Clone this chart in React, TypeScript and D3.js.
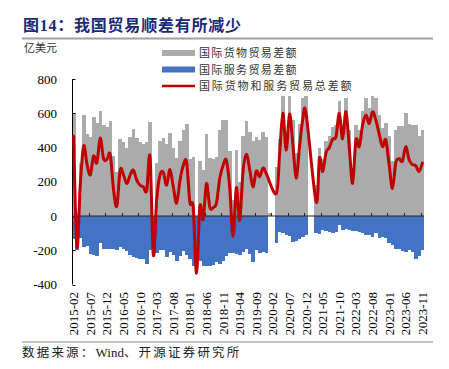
import React from "react";
import * as d3 from "d3";

// 2015-02 … 2023-11, monthly (亿美元)
const goods: (number | null)[] = [
  600, 25, 311, 590, 480, 460, 580, 545, 615, 530, 520,
  555, 350, 255, 448, 435, 395, 463, 506, 455, 430, 420, 430,
  546, -10, 310, 440, 453, 420, 482, 400, 340, 440, 500, 540,
  330, 342, -10, 320, 270, 480, 340, 335, 345, 500, 560, 560,
  380, 95, 385, 200, 470, 555, 492, 440, 463, 444, 490, 463,
  20, null, 284, 450, 700, 490, 700, 560, 370, 540, 690, 700,
  null, null, 180, 400, 330, 440, 470, 520, 530, 670, 540, 690,
  500, 280, 530, 500, 615, 690, 630, 700, 690, 590, 515, 545,
  470, 320, 500, 525, 525, 600, 535, 530, 530, 470, 505,
];

const services: (number | null)[] = [
  -135, -200, -130, -180, -175, -220, -230, -234, -160, -195, -190,
  -195, -195, -200, -180, -195, -205, -225, -238, -245, -250, -250, -280,
  -200, -230, -215, -200, -198, -240, -210, -230, -265, -235, -205, -225,
  -250, -290, -320, -265, -290, -290, -290, -285, -270, -280, -265, -235,
  -215, -215, -220, -225, -210, -195, -220, -270, -200, -215, -210, -215,
  null, null, -160, -95, -100, -110, -115, -150, -145, -135, -125, -110,
  null, null, -100, -105, -80, -85, -95, -100, -95, -55, -80, -75,
  -80, -85, -85, -95, -100, -110, -110, -120, -100, -130, -125, -130,
  -160, -170, -190, -195, -205, -210, -200, -210, -250, -235, -200,
];

const total: (number | null)[] = [
  465, -180, 185, 409, 305, 240, 350, 311, 455, 335, 330,
  360, 155, 58, 268, 240, 190, 238, 268, 210, 180, 170, 150,
  346, -228, 95, 240, 255, 180, 272, 171, 75, 205, 295, 315,
  80, 50, -335, 55, -20, 190, 50, 50, 75, 220, 295, 325,
  165, -120, 165, -25, 260, 360, 272, 170, 263, 229, 280, 248,
  null, null, 130, 355, 600, 385, 595, 420, 222, 400, 565, 595,
  null, null, 84, 337, 260, 370, 400, 450, 463, 600, 450, 609,
  400, 191, 444, 405, 530, 590, 540, 609, 560, 480, 405, 445,
  300, 160, 310, 335, 320, 405, 330, 300, 295, 260, 310,
];

const categories: string[] = d3
  .timeMonth.range(new Date(2015, 1, 1), new Date(2023, 11, 1))
  .map(d3.timeFormat("%Y-%m"));

const yTicks = [800, 600, 400, 200, 0, -200, -400];
const legendLabels = ["国际货物贸易差额", "国际服务贸易差额", "国际货物和服务贸易总差额"];
const titleText = "图14：我国贸易顺差有所减少";
const unitText = "亿美元";
const sourceParts = ["数据来源：", "Wind", "、开源证券研究所"];

const SERIF = "'Liberation Serif', 'Times New Roman', serif";
const CJK = "'Noto Sans CJK SC', 'Noto Sans', sans-serif";
const GRAY = "#ABABAB";
const BLUE = "#4472C4";
const RED = "#C00000";

export default function App() {
  const x = d3.scaleBand<string>().domain(categories).range([72, 424]).padding(0);
  const y = d3.scaleLinear().domain([-400, 800]).range([284.5, 79]);
  const bw = x.bandwidth();
  const y0 = y(0);

  const pts: [number, number][] = [];
  categories.forEach((c, i) => {
    const v = total[i];
    if (v != null) pts.push([(x(c) as number) + bw / 2, y(v)]);
  });
  const linePath = d3.line().curve(d3.curveCardinal.tension(0))(pts) || "";

  const tickIdx = categories.map((_, i) => i).filter((i) => i % 5 === 0);

  return (
    <svg
      width={449}
      height={369}
      style={{ position: "absolute", left: 0, top: 0, background: "#fff" }}
    >
      {/* title */}
      <text
        x={23}
        y={30.5}
        fontFamily={`'Liberation Serif', ${CJK}`}
        fontWeight="bold"
        fontSize={16}
        fill="#1a2a7a"
        textLength={218}
        lengthAdjust="spacing"
      >
        {titleText}
      </text>
      <line x1={22} x2={433} y1={38.5} y2={38.5} stroke="#A0A0A0" strokeWidth={2} />

      {/* unit */}
      <text x={24} y={52} fontFamily={CJK} fontSize={11} fill="#333" textLength={33} lengthAdjust="spacing">
        {unitText}
      </text>

      {/* legend */}
      {legendLabels.map((t, i) => {
        const cy = 53 + i * 16.5;
        const widths = [97.5, 97.5, 152.5];
        return (
          <g key={t}>
            {i < 2 ? (
              <rect x={162} y={cy - 3} width={33} height={6} fill={i === 0 ? GRAY : BLUE} />
            ) : (
              <line x1={162} x2={195} y1={cy} y2={cy} stroke={RED} strokeWidth={2.5} />
            )}
            <text
              x={199}
              y={cy + 4}
              fontFamily={CJK}
              fontSize={11}
              fill="#333"
              textLength={widths[i]}
              lengthAdjust="spacing"
            >
              {t}
            </text>
          </g>
        );
      })}

      {/* bars */}
      <g shapeRendering="crispEdges">
        {categories.map((c, i) => {
          const v = goods[i];
          if (v == null) return null;
          return (
            <rect
              key={"g" + c}
              x={x(c) as number}
              width={bw + 0.3}
              y={Math.min(y(v), y0)}
              height={Math.abs(y(v) - y0)}
              fill={GRAY}
            />
          );
        })}
        {categories.map((c, i) => {
          const v = services[i];
          if (v == null) return null;
          return (
            <rect
              key={"s" + c}
              x={x(c) as number}
              width={bw + 0.3}
              y={Math.min(y(v), y0)}
              height={Math.abs(y(v) - y0)}
              fill={BLUE}
            />
          );
        })}
      </g>

      {/* zero line + ticks */}
      <line x1={72} x2={424} y1={y0} y2={y0} stroke="#222" strokeWidth={1} />
      {tickIdx.map((i) => {
        const xx = Math.round(x(categories[i]) as number) + 0.5;
        return <line key={"xt" + i} x1={xx} x2={xx} y1={y0} y2={y0 - 3} stroke="#222" strokeWidth={1} />;
      })}

      {/* y axis */}
      <line x1={72.5} x2={72.5} y1={y(800)} y2={y(-400)} stroke="#000" strokeWidth={1} />
      {yTicks.map((t) => (
        <g key={"yt" + t}>
          <line x1={72.5} x2={75.5} y1={Math.round(y(t)) + 0.5} y2={Math.round(y(t)) + 0.5} stroke="#000" />
          <text
            x={57}
            y={y(t)}
            dy="0.35em"
            textAnchor="end"
            fontFamily={SERIF}
            fontSize={13}
            fill="#000"
          >
            {t}
          </text>
        </g>
      ))}

      {/* red line */}
      <path d={linePath} fill="none" stroke={RED} strokeWidth={3} strokeLinejoin="round" strokeLinecap="round" />

      {/* x labels */}
      {tickIdx.map((i) => {
        const cx = (x(categories[i]) as number) + bw / 2;
        return (
          <text
            key={"xl" + i}
            transform={`translate(${cx},292) rotate(-90)`}
            textAnchor="end"
            dy="0.35em"
            fontFamily={SERIF}
            fontSize={13}
            fill="#000"
          >
            {categories[i]}
          </text>
        );
      })}

      {/* bottom rule and source */}
      <line x1={22} x2={433} y1={342} y2={342} stroke="#888" strokeWidth={1.2} />
      <text x={22} y={357} fontSize={12.5} fill="#222">
        <tspan fontFamily={CJK} letterSpacing={2.2}>{sourceParts[0]}</tspan>
        <tspan fontFamily={SERIF} fontSize={13}>{sourceParts[1]}</tspan>
        <tspan fontFamily={CJK} letterSpacing={2.2}>{sourceParts[2]}</tspan>
      </text>
    </svg>
  );
}
